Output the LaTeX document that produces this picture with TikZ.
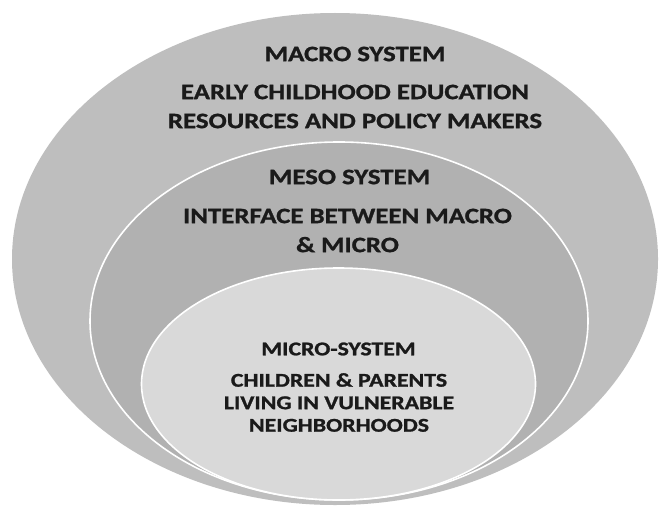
\documentclass[tikz,border=0pt]{standalone}
\usepackage{fontspec}
\newfontfamily\lbl[FakeStretch=1.22,FakeBold=1.2]{Carlito}
\usetikzlibrary{shapes.geometric}
\definecolor{outerc}{HTML}{BEBEBE}
\definecolor{midc}{HTML}{B1B1B1}
\definecolor{innerc}{HTML}{D9D9D9}
\definecolor{txt}{HTML}{1A1A1A}
\tikzset{
  bigtext/.style={font=\lbl\bfseries\fontsize{22}{29}\selectfont, text=txt, align=center, inner sep=0pt},
  smalltext/.style={font=\lbl\bfseries\fontsize{19.5}{22.5}\selectfont, text=txt, align=center, inner sep=0pt},
  ring/.style={draw=white, line width=1.6pt}
}
\begin{document}
\begin{tikzpicture}[x=1pt,y=-1pt]
\useasboundingbox (0,0) rectangle (660,508);
\fill[white] (0,0) rectangle (660,508);
% outer
\fill[outerc] (335,259) ellipse [x radius=323, y radius=246];
% middle
\fill[midc] (339,321) ellipse [x radius=249, y radius=179];
\draw[ring] (339,321) ellipse [x radius=249, y radius=179];
% inner
\fill[innerc] (338.5,384) ellipse [x radius=197, y radius=116];
\draw[ring] (338.5,384) ellipse [x radius=197, y radius=116];
% texts
\node[bigtext] (macrot) at (355,54) {MACRO SYSTEM};
\node[bigtext] (macrob) at (355,106.5) {EARLY CHILDHOOD EDUCATION\\RESOURCES AND POLICY MAKERS};
\node[bigtext] (mesot) at (349.5,177) {MESO SYSTEM};
\node[bigtext] (mesob) at (347.5,230.5) {INTERFACE BETWEEN MACRO\\\& MICRO};
\node[smalltext] (microt) at (338.5,349) {MICRO-SYSTEM};
\node[smalltext] (microb) at (339,402.5) {CHILDREN \& PARENTS\\LIVING IN VULNERABLE\\NEIGHBORHOODS};
\end{tikzpicture}
\end{document}
